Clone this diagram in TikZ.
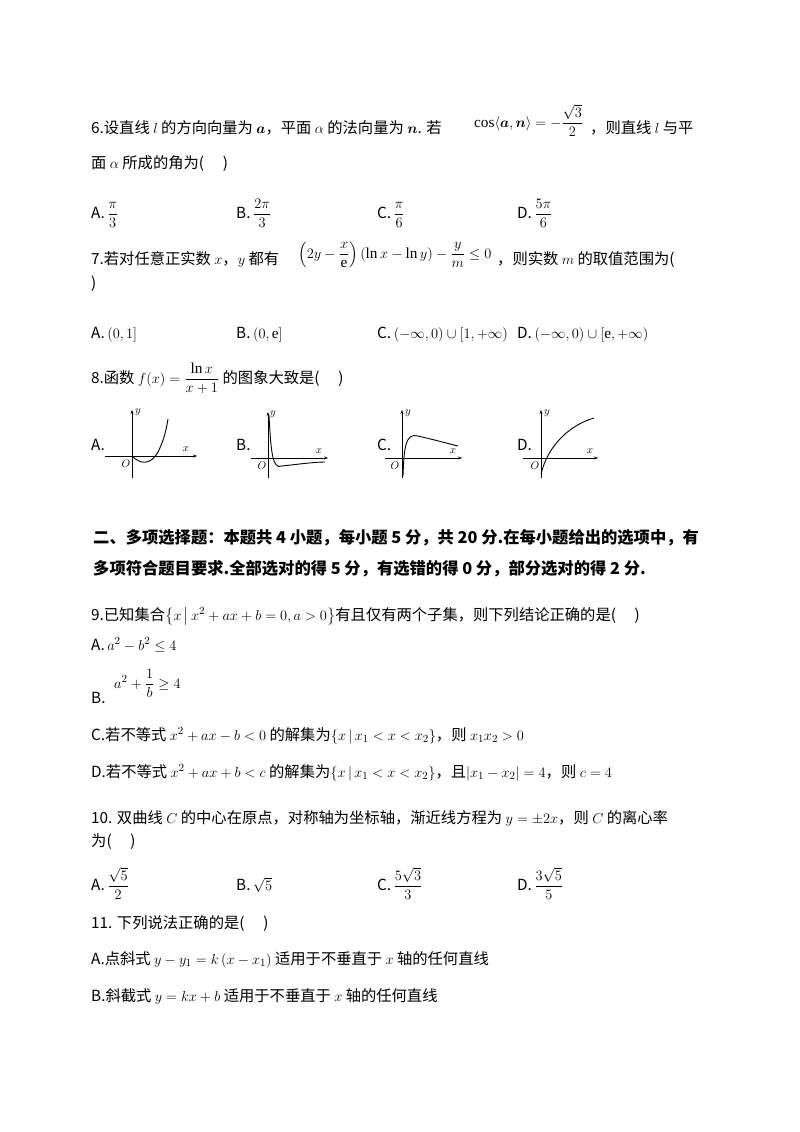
\documentclass[tikz,border=0pt]{standalone}
\usepackage{fontspec}
\usepackage{amsmath}
\setmainfont{Liberation Serif}
\newfontfamily\cjk{Noto Sans CJK SC}
\usetikzlibrary{arrows.meta}
\begin{document}
\begin{tikzpicture}[x=1pt,y=-1pt,
  txt/.style={anchor=base west,inner sep=0pt,font=\cjk\fontsize{15.3}{18}\selectfont},
  bold/.style={anchor=base west,inner sep=0pt,font=\cjk\bfseries\fontsize{16.3}{18}\selectfont},
  ax/.style={-{Stealth[length=4pt,width=3pt]},line width=0.7pt},
  lab/.style={font=\fontsize{11}{12}\selectfont\itshape},
  crv/.style={line width=0.9pt}]
\useasboundingbox[fill=white] (0,0) rectangle (800,1132);
% Q6
\node[txt] (q6a) at (91,133) {6.设直线 $l$ 的方向向量为 $\boldsymbol a$，平面 $\alpha$ 的法向量为 $\boldsymbol n$. 若};
\node[txt] (q6f) at (474,127) {$\cos\langle \boldsymbol a,\boldsymbol n\rangle=-\dfrac{\sqrt3}{2}$};
\node[txt] (q6b) at (590,133) {，则直线 $l$ 与平};
\node[txt] (q6c) at (91,168) {面 $\alpha$ 所成的角为(\quad\ )};
\node[txt] (o6a) at (91,218) {A.\,$\dfrac{\pi}{3}$};
\node[txt] (o6b) at (236,218) {B.\,$\dfrac{2\pi}{3}$};
\node[txt] (o6c) at (377,218) {C.\,$\dfrac{\pi}{6}$};
\node[txt] (o6d) at (517,218) {D.\,$\dfrac{5\pi}{6}$};
% Q7
\node[txt] (q7a) at (91,264) {7.若对任意正实数 $x$，$y$ 都有};
\node[txt] (q7f) at (298,258) {$\left(2y-\dfrac{x}{\mathrm e}\right)(\ln x-\ln y)-\dfrac{y}{m}\le 0$};
\node[txt] (q7b) at (497,264) {，则实数 $m$ 的取值范围为(};
\node[txt] (q7c) at (91,288) {)};
\node[txt] (o7a) at (91,338) {A.\,$(0,1]$};
\node[txt] (o7b) at (236,338) {B.\,$(0,\mathrm e]$};
\node[txt] (o7c) at (377,338) {C.\,$(-\infty,0)\cup[1,+\infty)$};
\node[txt] (o7d) at (517,338) {D.\,$(-\infty,0)\cup[\mathrm e,+\infty)$};
% Q8
\node[txt] (q8) at (91,383) {8.函数 $f(x)=\dfrac{\ln x}{x+1}$ 的图象大致是(\quad\ )};
% graphs
\node[txt] (ga) at (91,450) {A.};
\draw[ax] (105,456) -- (197,456); \draw[ax] (132,478) -- (132,410);
\node[lab] at (138,412) {$y$}; \node[lab] at (186,449) {$x$}; \node[lab] at (126,464) {$O$};
\draw[crv] (132,456) .. controls (140,464) and (150,466) .. (158,452) .. controls (163,442) and (166,432) .. (168,419);
\node[txt] (gb) at (236,450) {B.};
\draw[ax] (251,458) -- (328,458); \draw[ax] (268,478) -- (268,412);
\node[lab] at (273,414) {$y$}; \node[lab] at (319,451) {$x$}; \node[lab] at (262,466) {$O$};
\draw[crv] (269,416) .. controls (271,450) and (272,470) .. (282,466) .. controls (300,464) and (315,462) .. (325,462);
\node[txt] (gc) at (377,450) {C.};
\draw[ax] (385,458) -- (462,458); \draw[ax] (402,478) -- (402,410);
\node[lab] at (408,413) {$y$}; \node[lab] at (453,451) {$x$}; \node[lab] at (395,466) {$O$};
\draw[crv] (403,476) .. controls (404,450) and (405,432) .. (418,436) .. controls (435,440) and (450,444) .. (458,446);
\node[txt] (gd) at (517,450) {D.};
\draw[ax] (523,458) -- (598,458); \draw[ax] (541,478) -- (541,410);
\node[lab] at (547,413) {$y$}; \node[lab] at (590,451) {$x$}; \node[lab] at (535,466) {$O$};
\draw[crv] (541,474) .. controls (548,445) and (570,425) .. (594,418);
% section II
\node[bold] (s2a) at (93,543) {二、多项选择题：本题共 4 小题，每小题 5 分，共 20 分.在每小题给出的选项中，有};
\node[bold] (s2b) at (93,574) {多项符合题目要求.全部选对的得 5 分，有选错的得 0 分，部分选对的得 2 分.};
% Q9
\node[txt] (q9) at (91,620) {9.已知集合$\left\{x\,\middle|\,x^2+ax+b=0,a>0\right\}$有且仅有两个子集，则下列结论正确的是(\quad\ )};
\node[txt] (o9a) at (91,650) {A.\,$a^2-b^2\le 4$};
\node[txt] (o9b0) at (91,703) {B.};
\node[txt] (o9b) at (114,688) {$a^2+\dfrac1b\ge 4$};
\node[txt] (o9c) at (91,740) {C.若不等式 $x^2+ax-b<0$ 的解集为$\{x\,|\,x_1<x<x_2\}$，则 $x_1x_2>0$};
\node[txt] (o9d) at (91,777) {D.若不等式 $x^2+ax+b<c$ 的解集为$\{x\,|\,x_1<x<x_2\}$，且$|x_1-x_2|=4$，则 $c=4$};
% Q10
\node[txt] (q10a) at (91,823) {10. 双曲线 $C$ 的中心在原点，对称轴为坐标轴，渐近线方程为 $y=\pm2x$，则 $C$ 的离心率};
\node[txt] (q10b) at (91,846) {为(\quad\ )};
\node[txt] (o10a) at (91,890) {A.\,$\dfrac{\sqrt5}{2}$};
\node[txt] (o10b) at (236,890) {B.\,$\sqrt5$};
\node[txt] (o10c) at (377,890) {C.\,$\dfrac{5\sqrt3}{3}$};
\node[txt] (o10d) at (517,890) {D.\,$\dfrac{3\sqrt5}{5}$};
% Q11
\node[txt] (q11) at (91,928) {11. 下列说法正确的是(\quad\ )};
\node[txt] (o11a) at (91,964) {A.点斜式 $y-y_1=k\left(x-x_1\right)$ 适用于不垂直于 $x$ 轴的任何直线};
\node[txt] (o11b) at (91,1001) {B.斜截式 $y=kx+b$ 适用于不垂直于 $x$ 轴的任何直线};
\end{tikzpicture}
\end{document}
